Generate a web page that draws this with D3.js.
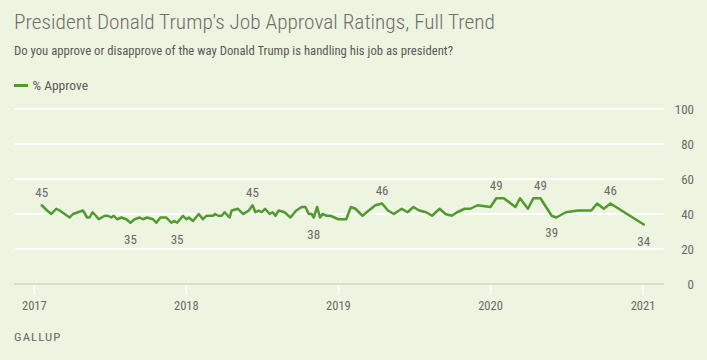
<!DOCTYPE html>
<html><head><meta charset="utf-8">
<script src="https://cdn.jsdelivr.net/npm/d3@7"></script>
<style>html,body{margin:0;padding:0;background:#edf4df;} svg{display:block}</style>
</head><body><svg id="c" width="707" height="360"></svg>
<script>
// ---- data ----
const dates = [
"2017-01-20","2017-02-02","2017-02-12","2017-02-24","2017-03-04","2017-03-16","2017-03-28","2017-04-05","2017-04-17","2017-04-29",
"2017-05-09","2017-05-15","2017-05-22","2017-05-30","2017-06-06","2017-06-20","2017-06-28","2017-07-06","2017-07-12","2017-07-20",
"2017-07-30","2017-08-11","2017-08-21","2017-08-31","2017-09-12","2017-09-20","2017-09-30","2017-10-14","2017-10-22","2017-11-01",
"2017-11-15","2017-11-27","2017-12-04","2017-12-11","2017-12-25",
"2018-01-02","2018-01-08","2018-01-18","2018-02-01","2018-02-11","2018-02-19","2018-03-07","2018-03-12","2018-03-20","2018-03-28",
"2018-04-04","2018-04-16","2018-04-21","2018-05-06","2018-05-14","2018-05-19","2018-06-01","2018-06-10","2018-06-17","2018-06-25",
"2018-07-02","2018-07-10","2018-07-21","2018-07-28","2018-08-04","2018-08-12","2018-08-26","2018-09-09","2018-09-23","2018-10-06",
"2018-10-15","2018-10-23","2018-10-30","2018-11-04","2018-11-12","2018-11-19","2018-11-25","2018-12-05","2018-12-14",
"2019-01-02","2019-01-21","2019-02-01","2019-02-12","2019-03-01","2019-03-16","2019-04-01","2019-04-17","2019-05-01","2019-05-15",
"2019-06-03","2019-06-17","2019-07-01","2019-07-15","2019-08-01","2019-08-15","2019-09-02","2019-09-16","2019-10-01","2019-10-14",
"2019-11-01","2019-11-15","2019-12-02",
"2020-01-02","2020-01-16","2020-02-03","2020-03-02","2020-03-13","2020-04-01","2020-04-14","2020-05-01","2020-05-28","2020-06-08",
"2020-07-01","2020-07-30","2020-08-17","2020-08-31","2020-09-14","2020-09-30","2020-10-16",
"2021-01-04"
];
const approve = [
45,42,40,43,42,40,38,40,41,42,
38,38,41,39,37,39,39,38,39,37,
38,37,35,37,38,37,38,37,35,38,
38,35,36,35,39,
37,38,36,40,37,39,39,40,39,39,
41,38,42,43,41,40,42,45,41,42,
41,43,40,41,39,42,41,38,42,44,
44,40,40,38,44,38,40,39,39,
37,37,44,43,39,42,45,46,42,40,
43,41,44,42,41,39,43,40,39,41,
43,43,45,
44,49,49,44,49,43,49,49,39,38,
41,42,42,42,46,43,46,
34
];
const labelDates = ["2017-01-20","2017-08-21","2017-12-11","2018-06-10","2018-11-04","2019-04-17","2020-01-16","2020-05-01","2020-05-28","2020-10-16","2021-01-04"];
const yTicks = [0,20,40,60,80,100];
const xTickYears = [2017,2018,2019,2020,2021];
const seriesName = "% Approve";
const titleText = "President Donald Trump's Job Approval Ratings, Full Trend";
const subtitleText = "Do you approve or disapprove of the way Donald Trump is handling his job as president?";
const sourceText = "GALLUP";

// ---- drawing ----
const parse = d3.utcParse("%Y-%m-%d");
const data = dates.map((d,i)=>({date:parse(d), v:approve[i], key:d}));
const svg = d3.select("#c");
const FONT = "'Liberation Sans Narrow','Roboto Condensed','Roboto','Liberation Sans',sans-serif";
const GREEN = "#4f9b2d";
const TXT = "#6a6a6a";

svg.append("rect").attr("width",707).attr("height",360).attr("fill","#edf4df");

const x = d3.scaleUtc().domain([Date.UTC(2017,0,1), Date.UTC(2021,0,1)]).range([33.8, 642.5]);
const y = d3.scaleLinear().domain([0,100]).range([284,109]);
const gridL = 14, gridR = 664;

function fitText(sel, w){
  const n = sel.node();
  const cw = n.getComputedTextLength();
  if (Math.abs(cw - w) > 1) sel.attr("textLength", w).attr("lengthAdjust","spacingAndGlyphs");
}

// title & subtitle
const t = svg.append("text").attr("x",14).attr("y",29).attr("font-family",FONT).attr("font-size",20.5)
  .attr("font-weight",300).attr("fill","#6e6e6e").text(titleText);
fitText(t, 481);
const st = svg.append("text").attr("x",14).attr("y",54.5).attr("font-family",FONT).attr("font-size",12.5)
  .attr("fill","#5a5a5a").text(subtitleText);
fitText(st, 439);

// legend
svg.append("line").attr("x1",14).attr("x2",28).attr("y1",85.5).attr("y2",85.5).attr("stroke",GREEN).attr("stroke-width",3);
const lg = svg.append("text").attr("x",32.5).attr("y",89.5).attr("font-family",FONT).attr("font-size",12.5)
  .attr("fill","#5a5a5a").text(seriesName);
fitText(lg, 55.5);

// gridlines
svg.append("g").selectAll("line").data(yTicks.filter(d=>d>0)).join("line")
  .attr("x1",gridL).attr("x2",gridR).attr("y1",d=>y(d)).attr("y2",d=>y(d))
  .attr("stroke","#ffffff").attr("stroke-width",2);

// y labels (right)
svg.append("g").selectAll("text").data(yTicks).join("text")
  .attr("x",694).attr("y",d=>y(d)).attr("dy","0.35em").attr("text-anchor","end")
  .attr("font-family",FONT).attr("font-size",13).attr("fill",TXT).text(d=>d);

// x axis
svg.append("line").attr("x1",gridL).attr("x2",gridR).attr("y1",284).attr("y2",284)
  .attr("stroke","#d8dccf").attr("stroke-width",2);
const xt = xTickYears.map(yv=>new Date(Date.UTC(yv,0,1)));
const xAxis = d3.axisBottom(x).tickValues(xt).tickFormat(d3.utcFormat("%Y")).tickSize(9).tickPadding(7);
const gx = svg.append("g").attr("transform","translate(0,285)").call(xAxis);
gx.select(".domain").remove();
gx.selectAll(".tick line").attr("stroke","#ffffff").attr("stroke-width",2);
gx.selectAll(".tick text").attr("font-family",FONT).attr("font-size",12.5).attr("fill",TXT);

// line
const line = d3.line().x(d=>x(d.date)).y(d=>y(d.v));
svg.append("path").datum(data).attr("d",line).attr("fill","none")
  .attr("stroke",GREEN).attr("stroke-width",2.5).attr("stroke-linejoin","round").attr("stroke-linecap","round");

// value labels
const lab = data.filter(d=>labelDates.includes(d.key));
svg.append("g").selectAll("text").data(lab).join("text")
  .attr("x",d=>x(d.date)).attr("y",d=> d.v>=42 ? y(d.v)-13 : y(d.v)+17).attr("dy","0.35em")
  .attr("text-anchor","middle").attr("font-family",FONT).attr("font-size",13).attr("fill",TXT).text(d=>d.v);

// source
const src = svg.append("text").attr("x",14).attr("y",341).attr("font-family",FONT).attr("font-size",11.5)
  .attr("fill",TXT).attr("letter-spacing",1).text(sourceText);
fitText(src, 47.5);
</script>
</body></html>
